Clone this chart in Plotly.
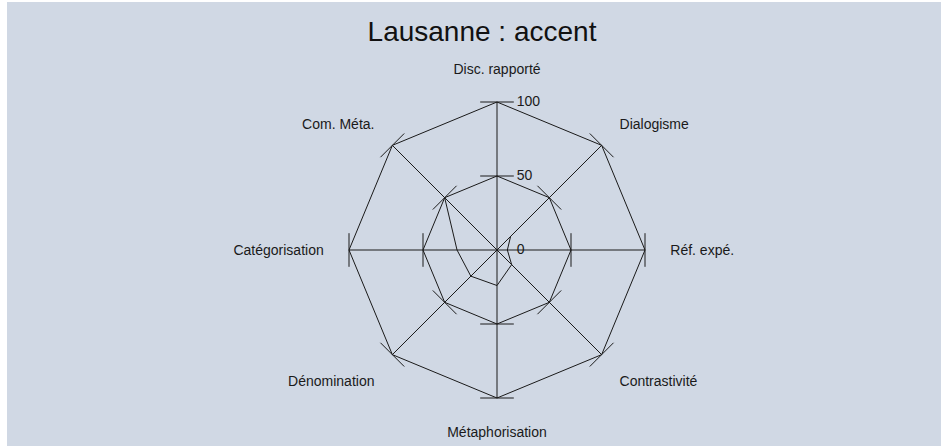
import plotly.graph_objects as go

categories = ["Disc. rapporté", "Dialogisme", "Réf. expé.", "Contrastivité",
              "Métaphorisation", "Dénomination", "Catégorisation", "Com. Méta."]
values = [0, 13, 7, 14, 24, 25, 27, 50]
radial_ticks = [0, 50, 100]
radial_tick_labels = ["0", "50", "100"]
title_text = "Lausanne : accent"

W, H = 944, 446
cx, cy, R = 497, 250, 148
BG = "#D0D8E4"
INK = "#1a1a1a"

fig = go.Figure()

# data polygon
fig.add_trace(go.Scatterpolar(
    r=values + [values[0]], theta=categories + [categories[0]],
    mode="lines", line=dict(color=INK, width=1), hoverinfo="skip", showlegend=False))

# tick marks on each spoke (perpendicular short segments)
tr, tt, ta = [], [], []
for i, c in enumerate(categories):
    for v in radial_ticks[1:]:
        tr.append(v); tt.append(c); ta.append(i * 45)
tr.append(0); tt.append(categories[0]); ta.append(0)
fig.add_trace(go.Scatterpolar(
    r=tr, theta=tt, mode="markers",
    marker=dict(symbol="line-ew", size=24, angle=ta,
                line=dict(color=INK, width=1), color=INK),
    hoverinfo="skip", showlegend=False))

# radial tick labels beside the top spoke
fig.add_trace(go.Scatterpolar(
    r=[max(v, 0.001) for v in radial_ticks], theta=[categories[0]] * len(radial_ticks),
    mode="markers+text", text=radial_tick_labels, textposition="middle right",
    marker=dict(size=30, opacity=0), cliponaxis=False,
    textfont=dict(size=14, color=INK),
    hoverinfo="skip", showlegend=False))

fig.update_layout(
    width=W, height=H,
    margin=dict(l=0, r=0, t=0, b=0),
    paper_bgcolor="white",
    font=dict(family="Liberation Sans, Arial, sans-serif", color=INK),
    title=dict(text=title_text, x=482 / W, xanchor="center",
               y=1 - 31 / H, yanchor="middle",
               font=dict(size=28, color="#111")),
    shapes=[dict(type="rect", xref="paper", yref="paper",
                 x0=7 / W, x1=941 / W, y0=0, y1=1 - 2 / H,
                 fillcolor=BG, line=dict(width=0), layer="below")],
    polar=dict(
        domain=dict(x=[(cx - R) / W, (cx + R) / W],
                    y=[(H - cy - R) / H, (H - cy + R) / H]),
        bgcolor="rgba(0,0,0,0)",
        gridshape="linear",
        angularaxis=dict(type="category", direction="clockwise", rotation=90,
                         showline=True, linecolor=INK, linewidth=1,
                         showgrid=True, gridcolor=INK, gridwidth=1,
                         ticks="outside", ticklen=22, tickcolor="rgba(0,0,0,0)",
                         tickfont=dict(size=14, color=INK)),
        radialaxis=dict(range=[0, 100], tickvals=radial_ticks, angle=90,
                        showline=False, showgrid=True, gridcolor=INK, gridwidth=1,
                        ticks="", showticklabels=False),
    ),
)

fig.write_html("out.html", config={"displayModeBar": False},
               post_script="document.body.style.margin='0';document.body.style.overflow='hidden';")
